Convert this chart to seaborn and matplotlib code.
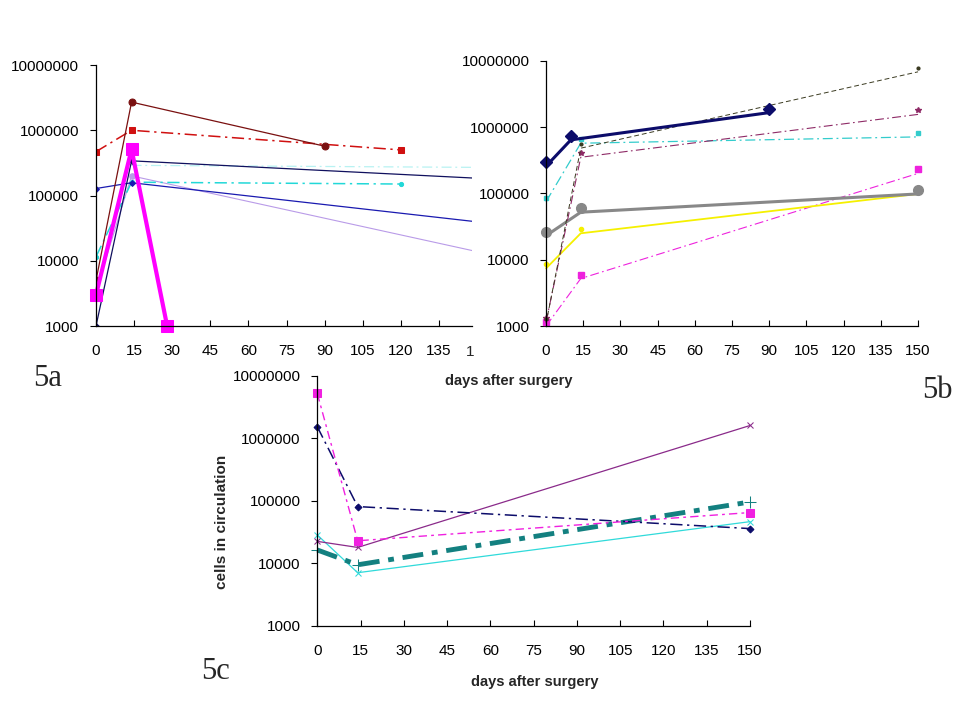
import matplotlib
matplotlib.use("Agg")
import matplotlib.pyplot as plt
import seaborn as sns
from matplotlib.transforms import offset_copy

# ---- data (days after surgery, cells in circulation) ----
# 5a
a_brown_days = [0, 14, 90]
a_brown_cells = [5000, 2.7e6, 5.7e5]
a_red_days = [0, 14, 120]
a_red_cells = [4.7e5, 1.0e6, 5.0e5]
a_navy_days = [0, 14, 150]
a_navy_cells = [1000, 3.4e5, 1.84e5]
a_blue_days = [0, 14, 150]
a_blue_cells = [1.28e5, 1.57e5, 3.95e4]
a_lav_days = [0, 14, 150]
a_lav_cells = [3500, 2.0e5, 1.38e4]
a_cyan_days = [0, 14, 120]
a_cyan_cells = [1.15e4, 1.6e5, 1.5e5]
a_cyan2_days = [14, 150]
a_cyan2_cells = [2.9e5, 2.7e5]
a_mag_days = [0, 14, 28]
a_mag_cells = [3000, 5.1e5, 1000]

# 5b
b_navy_days = [0, 10, 90]
b_navy_cells = [2.57e5, 6.4e5, 1.65e6]
b_olive_days = [0, 14, 150]
b_olive_cells = [1100, 4.8e5, 6.8e6]
b_purple_days = [0, 14, 150]
b_purple_cells = [1150, 3.5e5, 1.55e6]
b_cyan_days = [0, 14, 150]
b_cyan_cells = [7.5e4, 5.7e5, 7.1e5]
b_grey_days = [0, 14, 150]
b_grey_cells = [2.3e4, 5.2e4, 9.8e4]
b_yellow_days = [0, 14, 150]
b_yellow_cells = [7400, 2.5e4, 9.8e4]
b_mag_days = [0, 14, 150]
b_mag_cells = [1000, 5200, 2.0e5]

# 5c
c_mag_days = [0, 14, 150]
c_mag_cells = [5.2e6, 2.3e4, 6.5e4]
c_navy_days = [0, 14, 150]
c_navy_cells = [1.53e6, 8.1e4, 3.6e4]
c_purple_days = [0, 14, 150]
c_purple_cells = [2.25e4, 1.8e4, 1.6e6]
c_teal_days = [0, 14, 150]
c_teal_cells = [1.64e4, 9500, 9.6e4]
c_cyan_days = [0, 14, 150]
c_cyan_cells = [2.85e4, 7100, 4.65e4]

x_ticks = [0, 15, 30, 45, 60, 75, 90, 105, 120, 135, 150]
y_ticks = [1000, 10000, 100000, 1000000, 10000000]
y_labels = ["1000", "10000", "100000", "1000000", "10000000"]

sns.set_style("white")
plt.rcParams["font.family"] = ["Liberation Sans", "DejaVu Sans"]

fig = plt.figure(figsize=(9.6, 7.2), dpi=100)
ax_a = fig.add_axes([0.100, 0.5472, 0.3917, 0.3625])
ax_b = fig.add_axes([0.5688, 0.5472, 0.3875, 0.3685])
ax_c = fig.add_axes([0.3305, 0.1306, 0.4508, 0.3476])


def style_axes(ax, xmax):
    ax.set_yscale("log")
    ax.set_ylim(1000, 1e7)
    ax.set_xlim(0, xmax)
    ax.set_yticks(y_ticks)
    ax.set_yticklabels(y_labels)
    ax.minorticks_off()
    ax.set_xticks([t for t in x_ticks if t <= xmax])
    for s in ["top", "right"]:
        ax.spines[s].set_visible(False)
    for s in ["left", "bottom"]:
        ax.spines[s].set_color("black")
        ax.spines[s].set_linewidth(0.9)
    ax.tick_params(axis="y", direction="out", length=4, width=0.8, pad=8,
                   labelsize=11, colors="black", left=True)
    ax.tick_params(axis="x", direction="in", length=4, width=0.8, pad=13,
                   labelsize=11, colors="black", bottom=True)
    ax.set_xlabel("")
    ax.set_ylabel("")


def line(ax, x, y, color, lw=0.8, ls="-", marker=None, ms=4, mshift=0):
    if mshift:
        # markers in 5b sit a few pixels above their lines in the original
        sns.lineplot(x=x, y=y, ax=ax, color=color, linewidth=lw, linestyle=ls,
                     errorbar=None, sort=False, clip_on=False)
        tr = offset_copy(ax.transData, fig=fig, x=0, y=mshift, units="dots")
        ax.plot(x, y, linestyle="none", marker=marker, markersize=ms,
                color=color, markeredgecolor=color, transform=tr, clip_on=False)
    else:
        sns.lineplot(x=x, y=y, ax=ax, color=color, linewidth=lw, linestyle=ls,
                     marker=marker, markersize=ms, markeredgecolor=color,
                     errorbar=None, sort=False, clip_on=(ax is ax_a))


dashdot = (0, (8, 3, 1.5, 3))

# ---- 5a ----
line(ax_a, a_lav_days, a_lav_cells, "#B99BE8", 0.8, "-", "o", 4)
line(ax_a, a_cyan2_days, a_cyan2_cells, "#B8F2F2", 0.9, dashdot)
line(ax_a, a_cyan_days, a_cyan_cells, "#22D8D8", 1.1, dashdot, "o", 3)
line(ax_a, a_blue_days, a_blue_cells, "#1A1AB0", 0.9, "-", "D", 3)
line(ax_a, a_navy_days, a_navy_cells, "#10105E", 0.9, "-", "D", 3)
line(ax_a, a_red_days, a_red_cells, "#D01010", 1.1, dashdot, "s", 4)
line(ax_a, a_brown_days, a_brown_cells, "#7A1010", 0.9, "-", "o", 5)
line(ax_a, a_mag_days, a_mag_cells, "#FF00FF", 3.0, "-", "s", 8)
# the last magenta square sits on the axis floor: don't cut it
ax_a.lines[-1].set_clip_on(False)
style_axes(ax_a, 148)
ax_a.text(0.995, -0.098, "1", transform=ax_a.transAxes, fontsize=11,
          ha="center", va="center")

# ---- 5b ----
line(ax_b, b_mag_days, b_mag_cells, "#EE22DD", 0.8, dashdot, "s", 4, 4)
line(ax_b, b_yellow_days, b_yellow_cells, "#F5F000", 1.3, "-", "o", 3, 4)
line(ax_b, b_grey_days, b_grey_cells, "#888888", 2.2, "-", "o", 7, 4)
line(ax_b, b_cyan_days, b_cyan_cells, "#33CCCC", 0.9, dashdot, "s", 3, 4)
line(ax_b, b_purple_days, b_purple_cells, "#8E2A66", 0.8, dashdot, "*", 4, 4)
line(ax_b, b_olive_days, b_olive_cells, "#3A3A20", 0.7, (0, (5, 3)), "o", 2, 4)
line(ax_b, b_navy_days, b_navy_cells, "#0C0C6A", 2.2, "-", "D", 6, 4)
style_axes(ax_b, 150)

# ---- 5c ----
line(ax_c, c_cyan_days, c_cyan_cells, "#30DADA", 0.9, "-", "x", 5)
line(ax_c, c_teal_days, c_teal_cells, "#138080", 3.5, (0, (4.3, 1.8, 1.2, 1.8)), "+", 9)
line(ax_c, c_purple_days, c_purple_cells, "#8A2A8A", 0.9, "-", "x", 5)
line(ax_c, c_navy_days, c_navy_cells, "#0C0C6A", 1.1, dashdot, "D", 3.5)
line(ax_c, c_mag_days, c_mag_cells, "#F020E0", 1.0, (0, (6, 3, 2, 3)), "s", 6)
style_axes(ax_c, 150)

# ---- texts ----
fig.text(0.530, 0.471, "days after surgery", fontsize=10.5, fontweight="bold",
         ha="center", va="center")
fig.text(0.557, 0.053, "days after surgery", fontsize=10.5, fontweight="bold",
         ha="center", va="center")
fig.text(0.231, 0.275, "cells in circulation", fontsize=11, fontweight="bold",
         rotation=90, ha="center", va="center")
serif = ["Liberation Serif", "DejaVu Serif"]
fig.text(0.050, 0.475, "5a", fontsize=22, family=serif, ha="center", va="center")
fig.text(0.976, 0.458, "5b", fontsize=22, family=serif, ha="center", va="center")
fig.text(0.224, 0.067, "5c", fontsize=22, family=serif, ha="center", va="center")

fig.savefig("out.png", dpi=100)
